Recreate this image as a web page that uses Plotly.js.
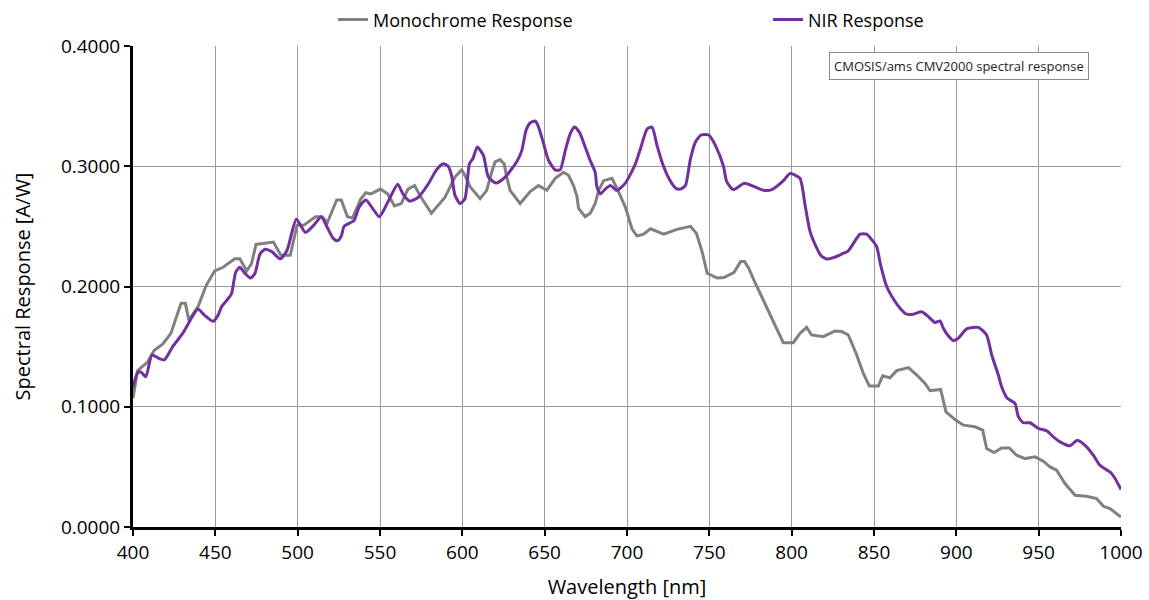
<!DOCTYPE html>
<html>
<head>
<meta charset="utf-8">
<script src="https://cdn.plot.ly/plotly-3.0.1.min.js"></script>
<style>html,body{margin:0;padding:0;background:#fff;}#chart{width:1149px;height:600px;}</style>
</head>
<body>
<div id="chart"></div>
<script>
const monoWavelength = [400,402.7,408.8,412.9,418,423,429.2,431.8,433.9,439.4,444.5,449.6,454.7,461.8,464.9,469,472,474.7,485.3,489.8,495.5,499.6,503.7,510.8,514.9,518,523.7,526.5,530.2,533.3,538.4,541.4,544.5,550.2,554.7,558.8,562.9,567,571,575,581.2,589.4,595.5,599.6,601.6,604.7,610.8,614.8,617.8,619.9,622.9,625.4,627,629,635.1,641.2,646.2,651.3,656.4,661.5,664.5,667.5,669.6,670.6,674.6,677.7,680.7,682.8,685.8,690.9,693.9,699,703,706.1,710.1,714.2,722.3,730.4,738.5,742.2,745.6,748.7,754.8,758.8,764.9,769,771.4,774,777,781.8,786.8,794.9,801,805,809.1,812.1,819.2,826.3,830.4,834.4,839.5,843.5,847.2,852.6,855.3,859.7,863.8,870.9,876,881,884,890.5,893.7,900.2,904.3,911.3,916,918.4,922.9,927.5,932.2,936.6,941.7,947.8,952.8,956.9,960.9,966,972.1,979.1,985.2,989.3,993.3,1000];
const monoResponse = [0.107,0.130,0.137,0.147,0.152,0.161,0.186,0.186,0.172,0.183,0.201,0.213,0.216,0.223,0.223,0.213,0.219,0.235,0.237,0.226,0.226,0.251,0.251,0.258,0.258,0.253,0.272,0.272,0.258,0.257,0.273,0.278,0.277,0.281,0.277,0.267,0.269,0.281,0.284,0.274,0.261,0.274,0.291,0.297,0.2925,0.283,0.273,0.280,0.295,0.3036,0.3055,0.302,0.291,0.280,0.269,0.279,0.284,0.280,0.290,0.295,0.2925,0.284,0.275,0.265,0.258,0.261,0.269,0.280,0.288,0.290,0.2815,0.266,0.248,0.242,0.2436,0.248,0.2436,0.2475,0.250,0.244,0.229,0.211,0.207,0.2075,0.2116,0.2207,0.2207,0.215,0.2055,0.1917,0.176,0.1533,0.1533,0.161,0.166,0.1597,0.1583,0.163,0.1625,0.1597,0.143,0.1278,0.1172,0.1172,0.1258,0.124,0.130,0.1325,0.1264,0.1194,0.1133,0.1144,0.0958,0.0883,0.0847,0.0833,0.0806,0.0653,0.062,0.0658,0.0658,0.0597,0.0569,0.0583,0.0547,0.050,0.0472,0.0361,0.0264,0.0256,0.0236,0.0172,0.0153,0.0083];

const nirWavelength = [400,402.7,404.7,407.8,411.5,416,419,424.1,430.2,439.4,443.5,448.6,451.6,453.7,456.7,459.8,462.4,464.9,467.9,471.4,474.1,477.1,480.2,484.3,489.4,493.5,499.2,504.7,509.8,514.3,518,521.6,524.1,526.5,528.2,534.3,537.3,541.4,545.5,549.6,554.7,560.8,563.9,568,573.1,579.2,584.3,588.4,591.4,593.5,595.5,598.6,601.6,604.3,606.3,609.1,612.8,615.8,620.5,626,633.1,636.1,638.7,641.2,644.2,646.2,649.3,652.3,656.4,659.4,662.5,665.5,668.2,671.2,674.6,677.6,680.7,681.7,683.8,686.8,689.9,693.9,699,705.1,708.5,712.2,715.2,718.3,721.9,725.4,729.4,732.5,735.5,738.5,741.5,745,749.7,753.8,758.6,760.5,764.5,771.3,777.4,783,788,795,799,805,808.1,811.1,814.2,817.6,821.3,825.3,830.4,834.4,838.5,841.5,845.5,848.6,851.6,854,857.7,862.1,865.8,869.8,873.9,878.9,883,887,890.1,892.1,895.1,898.2,901.2,906.3,913.4,918.4,921.5,925.5,927.5,931,935.6,937.7,940.7,944.7,949.8,954.9,958.9,963,969,973.5,979.1,983.2,987.2,993.7,996.4,1000];
const nirResponse = [0.116,0.128,0.129,0.125,0.143,0.140,0.139,0.150,0.161,0.181,0.176,0.171,0.176,0.183,0.188,0.194,0.212,0.216,0.211,0.207,0.211,0.227,0.231,0.229,0.223,0.230,0.256,0.245,0.251,0.258,0.249,0.240,0.238,0.242,0.250,0.255,0.266,0.272,0.265,0.258,0.270,0.285,0.277,0.271,0.274,0.285,0.297,0.302,0.300,0.292,0.276,0.269,0.273,0.302,0.306,0.316,0.309,0.291,0.286,0.291,0.304,0.313,0.330,0.336,0.3376,0.333,0.319,0.305,0.297,0.297,0.313,0.327,0.3326,0.328,0.316,0.305,0.295,0.283,0.277,0.281,0.284,0.280,0.286,0.302,0.316,0.331,0.3326,0.317,0.301,0.290,0.282,0.281,0.284,0.306,0.320,0.326,0.326,0.317,0.300,0.2875,0.2806,0.2858,0.283,0.280,0.2806,0.288,0.294,0.290,0.268,0.246,0.235,0.226,0.2228,0.224,0.227,0.2297,0.238,0.2436,0.2436,0.239,0.2333,0.218,0.200,0.189,0.182,0.177,0.177,0.179,0.175,0.170,0.1714,0.1653,0.159,0.155,0.157,0.1647,0.166,0.1597,0.143,0.1264,0.1167,0.107,0.1028,0.0917,0.0867,0.0867,0.082,0.080,0.075,0.0708,0.0675,0.0722,0.0667,0.0597,0.0514,0.0453,0.0403,0.0311];

const seriesNames = ["Monochrome Response", "NIR Response"];
const noteText = "CMOSIS/ams CMV2000 spectral response";

const FONT = "'Open Sans', 'Noto Sans', sans-serif";

const traces = [
  {x: monoWavelength, y: monoResponse, name: seriesNames[0], type: "scatter", mode: "lines",
   legend: "legend", line: {color: "#808080", width: 3}},
  {x: nirWavelength, y: nirResponse, name: seriesNames[1], type: "scatter", mode: "lines",
   legend: "legend2", line: {color: "#7030A0", width: 3, shape: "spline", smoothing: 0.6}}
];

const axisCommon = {
  showline: true, linecolor: "#000", linewidth: 3,
  ticks: "outside", ticklen: 6, tickwidth: 2, tickcolor: "#000",
  showgrid: true, gridcolor: "#9a9a9a", gridwidth: 1,
  zeroline: false,
  tickfont: {family: FONT, size: 19, color: "#000"}
};

const legendCommon = {
  orientation: "h", xref: "container", yref: "container",
  xanchor: "left", y: 0.967, yanchor: "middle",
  font: {family: FONT, size: 18, color: "#000"},
  itemwidth: 30, bgcolor: "rgba(0,0,0,0)", borderwidth: 0
};

const layout = {
  width: 1149, height: 600,
  margin: {l: 133, r: 28, t: 46, b: 73},
  paper_bgcolor: "#fff", plot_bgcolor: "#fff",
  font: {family: FONT, color: "#000"},
  showlegend: true,
  legend: Object.assign({}, legendCommon, {x: 333 / 1149}),
  legend2: Object.assign({}, legendCommon, {x: 768 / 1149}),
  xaxis: Object.assign({}, axisCommon, {
    range: [400, 1000], dtick: 50, tick0: 400,
    title: {text: "Wavelength [nm]", font: {family: FONT, size: 20, color: "#000"}, standoff: 19}
  }),
  yaxis: Object.assign({}, axisCommon, {
    range: [0, 0.4], dtick: 0.1, tick0: 0, tickformat: ".4f",
    title: {text: "Spectral Response [A/W]", font: {family: FONT, size: 20, color: "#000"}, standoff: 25}
  }),
  annotations: [{
    text: noteText, xref: "paper", yref: "paper",
    x: 0.968, xanchor: "right", y: 0.9585, yanchor: "middle",
    showarrow: false, font: {family: FONT, size: 13, color: "#222"},
    bordercolor: "#8c8c8c", borderwidth: 1, borderpad: 4, bgcolor: "#fff"
  }]
};

Plotly.newPlot("chart", traces, layout, {displayModeBar: false, staticPlot: true});
</script>
</body>
</html>
